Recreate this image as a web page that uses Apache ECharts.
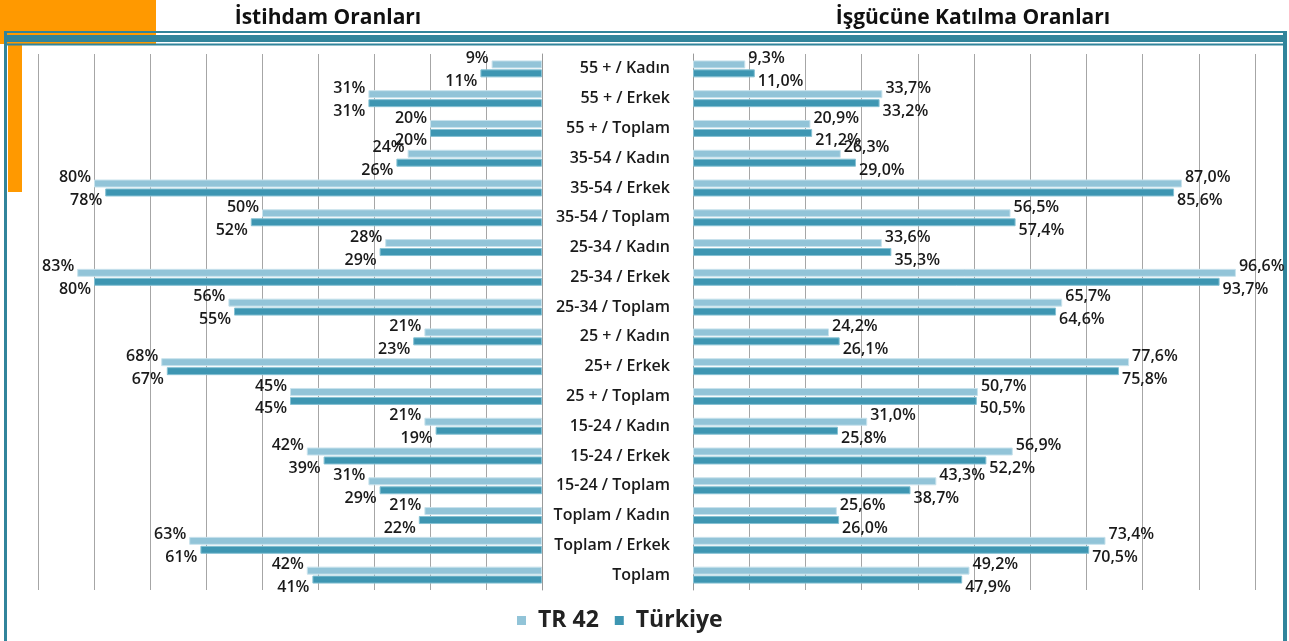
<!DOCTYPE html>
<html>
<head>
<meta charset="utf-8">
<title>İstihdam ve İşgücüne Katılma Oranları</title>
<script src="https://cdn.jsdelivr.net/npm/echarts@6/dist/echarts.min.js"></script>
<style>
  html, body { margin: 0; padding: 0; background: #fff; }
  #main { width: 1289px; height: 641px; }
</style>
</head>
<body>
<div id="main"></div>
<script>
// categories, top to bottom
const categories = [
  "55 + / Kadın", "55 + / Erkek", "55 + / Toplam",
  "35-54 / Kadın", "35-54 / Erkek", "35-54 / Toplam",
  "25-34 / Kadın", "25-34 / Erkek", "25-34 / Toplam",
  "25 + / Kadın", "25+ / Erkek", "25 + / Toplam",
  "15-24 / Kadın", "15-24 / Erkek", "15-24 / Toplam",
  "Toplam / Kadın", "Toplam / Erkek", "Toplam"
];

// İstihdam Oranları (%)
const istihdamTR42 = [9, 31, 20, 24, 80, 50, 28, 83, 56, 21, 68, 45, 21, 42, 31, 21, 63, 42];
const istihdamTurkiye = [11, 31, 20, 26, 78, 52, 29, 80, 55, 23, 67, 45, 19, 39, 29, 22, 61, 41];

// İşgücüne Katılma Oranları (%)
const katilimTR42 = [9.3, 33.7, 20.9, 26.3, 87.0, 56.5, 33.6, 96.6, 65.7, 24.2, 77.6, 50.7, 31.0, 56.9, 43.3, 25.6, 73.4, 49.2];
const katilimTurkiye = [11.0, 33.2, 21.2, 29.0, 85.6, 57.4, 35.3, 93.7, 64.6, 26.1, 75.8, 50.5, 25.8, 52.2, 38.7, 26.0, 70.5, 47.9];

const seriesNames = ["TR 42", "Türkiye"];

const lightBlue = "#92c4d8";
const darkBlue = "#3e96b2";
const frame = "#31849b";
const font = "'Open Sans', 'DejaVu Sans', sans-serif";

const labelStyle = {
  fontFamily: font,
  fontSize: 16,
  fontWeight: 600,
  color: "#1a1a1a"
};

const pct0 = p => p.value + "%";
const pct1 = p => p.value.toFixed(1).replace(".", ",") + "%";

const makeBar = (name, data, idx, color, border, side, fmt, dy) => ({
  name: name,
  type: "bar",
  xAxisIndex: idx,
  yAxisIndex: idx,
  data: data,
  barWidth: 8,
  barGap: "12%",
  itemStyle: { color: color, borderColor: border, borderWidth: 1 },
  label: Object.assign({
    show: true,
    position: side,
    distance: 3,
    offset: [0, dy],
    formatter: fmt
  }, labelStyle)
});

const chart = echarts.init(document.getElementById("main"));

const option = {
  backgroundColor: "#fff",
  animation: false,
  title: [
    {
      text: "İstihdam Oranları",
      left: 323, top: 3, textAlign: "center",
      textStyle: { fontFamily: font, fontSize: 21, fontWeight: "bold", color: "#111" }
    },
    {
      text: "İşgücüne Katılma Oranları",
      left: 968, top: 3, textAlign: "center",
      textStyle: { fontFamily: font, fontSize: 21, fontWeight: "bold", color: "#111" }
    }
  ],
  graphic: [
    { type: "rect", shape: { x: 0, y: 0, width: 156, height: 44 }, style: { fill: "#ff9900" }, z: -1 },
    { type: "rect", shape: { x: 8, y: 44, width: 14, height: 148 }, style: { fill: "#ff9900" }, z: -1 },
    { type: "rect", shape: { x: 4, y: 31, width: 1283, height: 2 }, style: { fill: frame } },
    { type: "rect", shape: { x: 4, y: 35, width: 1283, height: 7 }, style: { fill: frame } },
    { type: "rect", shape: { x: 4, y: 43.5, width: 1283, height: 2 }, style: { fill: frame } },
    { type: "rect", shape: { x: 4, y: 31, width: 3, height: 610 }, style: { fill: frame } },
    { type: "rect", shape: { x: 1283, y: 31, width: 4, height: 610 }, style: { fill: frame } }
  ],
  legend: {
    data: seriesNames,
    left: 512,
    top: 604,
    itemWidth: 9,
    itemHeight: 9,
    itemGap: 16,
    icon: "rect",
    itemStyle: { borderWidth: 0 },
    textStyle: {
      fontFamily: font, fontSize: 23, fontWeight: "bold", color: "#222",
      padding: [0, 0, 0, 7]
    }
  },
  grid: [
    { left: 38, right: 747, top: 54, bottom: 51 },
    { left: 693, right: 34, top: 54, bottom: 51 }
  ],
  xAxis: [
    {
      gridIndex: 0, type: "value", inverse: true, min: 0, max: 90, interval: 10,
      axisLabel: { show: false }, axisTick: { show: false }, axisLine: { show: false },
      splitLine: { lineStyle: { color: "#a6a6a6", width: 1 } }
    },
    {
      gridIndex: 1, type: "value", min: 0, max: 100, interval: 10,
      axisLabel: { show: false }, axisTick: { show: false }, axisLine: { show: false },
      splitLine: { lineStyle: { color: "#a6a6a6", width: 1 } }
    }
  ],
  yAxis: [
    {
      gridIndex: 0, type: "category", data: categories, inverse: true, position: "right",
      axisLine: { lineStyle: { color: "#9a9a9a" } },
      axisTick: { length: 4, lineStyle: { color: "#9a9a9a" } },
      axisLabel: { show: false }
    },
    {
      gridIndex: 1, type: "category", data: categories, inverse: true, position: "left",
      axisLine: { lineStyle: { color: "#9a9a9a" } },
      axisTick: { length: 4, lineStyle: { color: "#9a9a9a" } },
      axisLabel: {
        margin: 23,
        padding: [5, 0, 0, 0],
        fontFamily: font, fontSize: 16, fontWeight: 600, color: "#1a1a1a"
      }
    }
  ],
  series: [
    makeBar(seriesNames[0], istihdamTR42, 0, lightBlue, "#c8e2ec", "left", pct0, -6),
    makeBar(seriesNames[1], istihdamTurkiye, 0, darkBlue, "#86c1d3", "left", pct0, 8),
    makeBar(seriesNames[0], katilimTR42, 1, lightBlue, "#c8e2ec", "right", pct1, -6),
    makeBar(seriesNames[1], katilimTurkiye, 1, darkBlue, "#86c1d3", "right", pct1, 8)
  ]
};

chart.setOption(option);
</script>
</body>
</html>
